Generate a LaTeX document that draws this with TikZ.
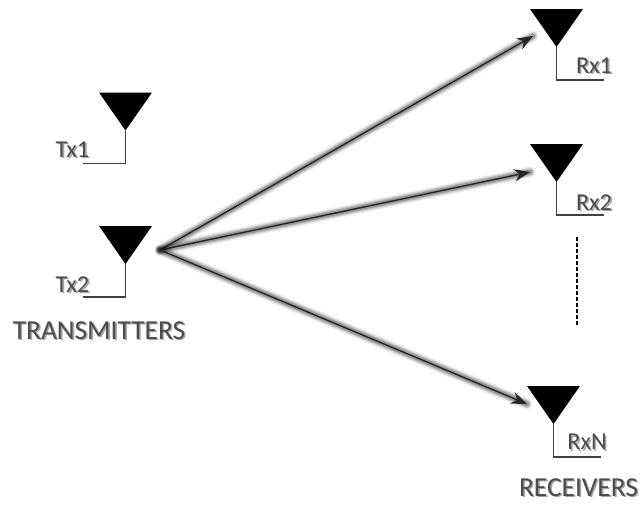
\documentclass[tikz,border=0pt]{standalone}
\usepackage{fontspec}
\setmainfont{Carlito}
\usetikzlibrary{arrows.meta}
\newcommand{\shadowtext}[1]{\makebox[0pt][l]{\hspace{0.9pt}\raisebox{-0.9pt}{\textcolor{black!35}{#1}}}\textcolor{black!70}{#1}}
\tikzset{
    label/.style={inner sep=0pt, font=\fontsize{13.8}{15}\selectfont},
    title/.style={inner sep=0pt, font=\fontsize{15.6}{18}\selectfont},
    feed/.style={line width=0.7pt, black!75},
    pics/antenna/.style={
        code={
            \fill[black] (-26.5,0) -- (26.5,0) -- (0,38) -- cycle;
            \coordinate (-base) at (0,71);
            \coordinate (-end) at (#1,71);
            \draw[feed] (0,38) -- (-base) -- (-end);
        }
    }
}
\newcommand{\glowarrow}[2]{%
    \foreach \w/\o in {6.4pt/0.06,5pt/0.10,3.8pt/0.14,2.6pt/0.18}{
        \draw[line width=\w, line cap=round, black, opacity=\o] (#1) -- (#2);
    }
    \draw[-{Stealth[length=9pt,width=7pt]}, line width=0.8pt, black!85] (#1) -- (#2);
}
\begin{document}
\begin{tikzpicture}[x=0.02cm,y=-0.02cm]
    \useasboundingbox (0,0) rectangle (642,504);
    % Transmitters
    \pic (tx1) at (125.5,92.5) {antenna=-43};
    \pic (tx2) at (125.5,226) {antenna=-43};
    % Receivers
    \pic (rx1) at (556.5,9) {antenna=47};
    \pic (rx2) at (556.5,144) {antenna=47};
    \pic (rxN) at (553.5,386) {antenna=47};
    % Labels
    \node[label] (tx1label) at (72.5,150) {\shadowtext{Tx1}};
    \node[label] (tx2label) at (72.5,285) {\shadowtext{Tx2}};
    \node[label] (rx1label) at (594,66) {\shadowtext{Rx1}};
    \node[label] (rx2label) at (594,203) {\shadowtext{Rx2}};
    \node[label] (rxNlabel) at (587,443) {\shadowtext{RxN}};
    \node[title] (txtitle) at (99,331) {\shadowtext{TRANSMITTERS}};
    \node[title] (rxtitle) at (578.5,488) {\shadowtext{RECEIVERS}};
    % Arrows
    \coordinate (fan) at (160,250);
    \coordinate (to1) at (533,36);
    \coordinate (to2) at (530,172);
    \coordinate (toN) at (527,404);
    \glowarrow{fan}{to1}
    \glowarrow{fan}{to2}
    \glowarrow{fan}{toN}
    % Dots between Rx2 and RxN
    \coordinate (dashtop) at (577,237);
    \coordinate (dashend) at (577,325);
    \draw[line width=1.1pt, dash pattern=on 2.2pt off 1.2pt] (dashtop) -- (dashend);
\end{tikzpicture}
\end{document}
